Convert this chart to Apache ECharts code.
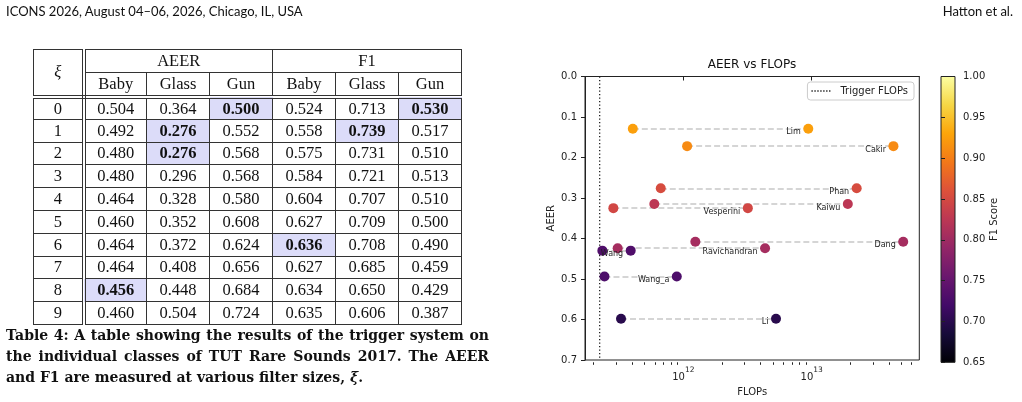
<!DOCTYPE html>
<html>
<head>
<meta charset="utf-8">
<script src="https://cdn.jsdelivr.net/npm/echarts@6.0.0/dist/echarts.min.js"></script>
<title>AEER vs FLOPs</title>
<style>
    body { margin: 0; background: #fff; width: 1022px; height: 402px; overflow: hidden; position: relative; }
    #chart { position: absolute; left: 0; top: 0; width: 1022px; height: 402px; }
    .runhead { position: absolute; top: 3px; font-family: Lato, 'Open Sans', sans-serif; font-size: 13px; color: #111; }
    #tbl { position: absolute; left: 33px; top: 49px; border-collapse: collapse; table-layout: fixed;
        font-family: 'Liberation Serif', 'DejaVu Serif', serif; font-size: 16.5px; color: #111; }
    #tbl td, #tbl th { border: 1px solid #333; text-align: center; padding: 0; font-weight: normal; }
    #tbl tr { height: 22.8px; }
    #tbl tr.h1 { height: 23px; }
    #tbl tr.h2 { height: 24px; }
    #tbl .xi { border-right: 4px double #333; }
    #tbl .hsep { border-bottom: 4px double #333; }
    #tbl .best { background: #dcdcf9; font-weight: bold; }
    #caption { position: absolute; left: 6px; top: 325px; width: 483px; font-family: 'DejaVu Serif', 'Liberation Serif', serif;
        font-weight: bold; font-size: 14px; line-height: 21px; color: #111; }
    #caption .j { text-align: justify; text-align-last: justify; white-space: nowrap; }
</style>
</head>
<body>
<div id="chart"></div>
<div class="runhead" style="left:6px">ICONS 2026, August 04–06, 2026, Chicago, IL, USA</div>
<div class="runhead" style="right:9px">Hatton et al.</div>
<table id="tbl"></table>
<div id="caption">
    <div class="j">Table 4: A table showing the results of the trigger system on</div>
    <div class="j">the individual classes of TUT Rare Sounds 2017. The AEER</div>
    <div>and F1 are measured at various filter sizes, <i>ξ</i>.</div>
</div>

<script type="text/javascript">
    // ---- table data (filter size xi) ----
    var xiValues = [0, 1, 2, 3, 4, 5, 6, 7, 8, 9];
    var classNames = ['Baby', 'Glass', 'Gun'];
    var aeerBaby  = [0.504, 0.492, 0.480, 0.480, 0.464, 0.460, 0.464, 0.464, 0.456, 0.460];
    var aeerGlass = [0.364, 0.276, 0.276, 0.296, 0.328, 0.352, 0.372, 0.408, 0.448, 0.504];
    var aeerGun   = [0.500, 0.552, 0.568, 0.568, 0.580, 0.608, 0.624, 0.656, 0.684, 0.724];
    var f1Baby    = [0.524, 0.558, 0.575, 0.584, 0.604, 0.627, 0.636, 0.627, 0.634, 0.635];
    var f1Glass   = [0.713, 0.739, 0.731, 0.721, 0.707, 0.709, 0.708, 0.685, 0.650, 0.606];
    var f1Gun     = [0.530, 0.517, 0.510, 0.513, 0.510, 0.500, 0.490, 0.459, 0.429, 0.387];

    // ---- chart data ----
    var methods   = ['Lim', 'Cakir', 'Phan', 'Kaiwu', 'Vesperini', 'Dang', 'Ravichandran', 'Wang', 'Wang_a', 'Li'];
    var methodAeer = [0.129, 0.172, 0.276, 0.315, 0.325, 0.408, 0.424, 0.430, 0.494, 0.598];
    var withTriggerFlops = [4.04e11, 1.07e12, 6.67e11, 5.94e11, 2.85e11, 1.24e12, 3.08e11, 2.34e11, 2.43e11, 3.27e11];
    var originalFlops    = [9.4e12, 4.33e13, 2.24e13, 1.91e13, 3.18e12, 5.16e13, 4.33e12, 3.89e11, 8.89e11, 5.27e12];
    var methodF1  = [0.925, 0.910, 0.853, 0.825, 0.847, 0.805, 0.805, 0.732, 0.730, 0.700];
    var triggerFlops = 2.23e11;

    var majorTicks = [1e12, 1e13];
    var minorTicks = [2e11, 3e11, 4e11, 5e11, 6e11, 7e11, 8e11, 9e11,
                      2e12, 3e12, 4e12, 5e12, 6e12, 7e12, 8e12, 9e12,
                      2e13, 3e13, 4e13, 5e13, 6e13];
    var aeerTicks = [0, 0.1, 0.2, 0.3, 0.4, 0.5, 0.6, 0.7];
    var inferno = ['#000004', '#160b39', '#420a68', '#6a176e', '#932667', '#bc3754',
                   '#dd513a', '#f37819', '#fca50a', '#f6d746', '#fcffa4'];

    // ---- build table ----
    function bestIndex(arr, useMax) {
        var b = useMax ? Math.max.apply(null, arr) : Math.min.apply(null, arr);
        return arr.map(function (v) { return v === b; });
    }
    var cols = [aeerBaby, aeerGlass, aeerGun, f1Baby, f1Glass, f1Gun];
    var bests = cols.map(function (c, k) { return bestIndex(c, k >= 3); });
    var html = '<colgroup><col style="width:50px">';
    for (var k = 0; k < 6; k++) html += '<col style="width:63px">';
    html += '</colgroup>';
    html += '<tr class="h1"><th class="xi hsep" rowspan="2"><i>ξ</i></th><th colspan="3">AEER</th><th colspan="3">F1</th></tr>';
    html += '<tr class="h2">';
    for (var g = 0; g < 2; g++) classNames.forEach(function (n) { html += '<th class="hsep">' + n + '</th>'; });
    html += '</tr>';
    xiValues.forEach(function (xi, r) {
        html += '<tr><td class="xi">' + xi + '</td>';
        cols.forEach(function (c, k) {
            html += '<td' + (bests[k][r] ? ' class="best"' : '') + '>' + c[r].toFixed(3) + '</td>';
        });
        html += '</tr>';
    });
    document.getElementById('tbl').innerHTML = html;

    // ---- chart ----
    var lg = function (v) { return Math.log10(v); };
    var dashData = [], dotData = [];
    for (var i = 0; i < methods.length; i++) {
        dashData.push({ coords: [[lg(withTriggerFlops[i]), methodAeer[i]], [lg(originalFlops[i]), methodAeer[i]]] });
        dotData.push({ value: [lg(withTriggerFlops[i]), methodAeer[i], methodF1[i], methods[i]] });
        dotData.push({ value: [lg(originalFlops[i]), methodAeer[i], methodF1[i], methods[i]],
            label: { show: true, formatter: methods[i] } });
    }

    // dotted legend icon (matplotlib ':' style)
    var dottedIcon = 'path://M0,0h1.4v1.4h-1.4z M3,0h1.4v1.4h-1.4z M6,0h1.4v1.4h-1.4z M9,0h1.4v1.4h-1.4z'
        + ' M12,0h1.4v1.4h-1.4z M15,0h1.4v1.4h-1.4z M18,0h1.4v1.4h-1.4z';

    var axisColor = '#222';
    var plot = { left: 585, top: 76.5, width: 334.3, height: 285.8 };
    var cbar = { left: 941, top: 76.5, width: 14, height: 285.8 };
    var myChart = echarts.init(document.getElementById('chart'));
    var option = {
        animation: false,
        textStyle: { fontFamily: 'DejaVu Sans' },
        title: {
            text: 'AEER vs FLOPs', left: 752, top: 59, textAlign: 'center', padding: 0,
            textStyle: { fontSize: 12, fontWeight: 'normal', color: '#111' }
        },
        legend: {
            data: [{ name: 'Trigger FLOPs', icon: dottedIcon }], right: 108, top: 82, padding: [4, 6, 4, 4],
            itemWidth: 19, itemHeight: 1.4, itemGap: 10, borderColor: '#ccc', borderWidth: 1, borderRadius: 3,
            backgroundColor: 'rgba(255,255,255,0.8)',
            textStyle: { fontSize: 10, color: '#222', padding: [0, 0, 0, 5] }
        },
        visualMap: {
            show: false, type: 'continuous', seriesIndex: 2, dimension: 2,
            min: 0.65, max: 1.0, inRange: { color: inferno }
        },
        // colorbar title
        graphic: [{
            type: 'text', x: 994, y: cbar.top + cbar.height / 2, rotation: Math.PI / 2, silent: true,
            style: { text: 'F1 Score', fontSize: 10, fontFamily: 'DejaVu Sans', fill: axisColor,
                align: 'center', verticalAlign: 'middle' }
        }],
        grid: [
            { left: plot.left, top: plot.top, width: plot.width, height: plot.height,
              show: true, borderColor: axisColor, borderWidth: 1, backgroundColor: 'transparent' },
            { left: cbar.left, top: cbar.top, width: cbar.width, height: cbar.height, show: true,
              borderColor: axisColor, borderWidth: 1,
              backgroundColor: new echarts.graphic.LinearGradient(0, 1, 0, 0,
                  inferno.map(function (c, j) { return { offset: j / (inferno.length - 1), color: c }; })) },
            { left: plot.left, top: plot.top, width: plot.width, height: plot.height, show: false }
        ],
        xAxis: [{
            type: 'value', gridIndex: 0, min: 11.234, max: 13.838,
            splitLine: { show: false },
            axisLine: { show: true, lineStyle: { color: axisColor, width: 1 } },
            axisTick: { customValues: majorTicks.map(lg), length: 4, lineStyle: { color: axisColor } },
            axisLabel: {
                customValues: majorTicks.map(lg), margin: 6,
                formatter: function (v) { return '{b|10}{s|' + Math.round(v) + '}'; },
                rich: {
                    b: { fontSize: 10, color: axisColor, lineHeight: 16, verticalAlign: 'bottom' },
                    s: { fontSize: 7.5, color: axisColor, lineHeight: 8, verticalAlign: 'top' }
                }
            },
            name: 'FLOPs', nameLocation: 'middle', nameGap: 27,
            nameTextStyle: { fontSize: 10, color: axisColor }
        }, {
            type: 'value', gridIndex: 1, min: 0, max: 1, show: false
        }, {
            type: 'value', gridIndex: 2, min: 11.234, max: 13.838,
            splitLine: { show: false }, axisLine: { show: false }, axisLabel: { show: false },
            axisTick: { customValues: minorTicks.map(lg), length: 2.5, lineStyle: { color: axisColor } }
        }],
        yAxis: [{
            type: 'value', gridIndex: 0, inverse: true, min: 0, max: 0.7, interval: 0.1,
            splitLine: { show: false },
            axisLine: { show: true, lineStyle: { color: axisColor, width: 1 } },
            axisTick: { customValues: aeerTicks, length: 4, lineStyle: { color: axisColor } },
            axisLabel: { customValues: aeerTicks, margin: 8, fontSize: 10, color: axisColor,
                formatter: function (v) { return v.toFixed(1); } },
            name: 'AEER', nameLocation: 'middle', nameGap: 29, nameRotate: 90,
            nameTextStyle: { fontSize: 10, color: axisColor }
        }, {
            type: 'value', gridIndex: 1, position: 'right', min: 0.65, max: 1.0, interval: 0.05,
            splitLine: { show: false }, axisLine: { show: false },
            axisTick: { length: 4, lineStyle: { color: axisColor } },
            axisLabel: { margin: 8, fontSize: 10, color: axisColor,
                formatter: function (v) { return v.toFixed(2); } }
        }, {
            type: 'value', gridIndex: 2, min: 0, max: 0.7, show: false
        }],
        series: [{
            type: 'lines', coordinateSystem: 'cartesian2d', xAxisIndex: 0, yAxisIndex: 0,
            silent: true, z: 1, data: dashData,
            lineStyle: { color: '#c8c8c8', width: 1.5, type: [6, 3], opacity: 1 }
        }, {
            name: 'Trigger FLOPs', type: 'line', xAxisIndex: 0, yAxisIndex: 0, symbol: 'none', z: 2,
            data: [[lg(triggerFlops), 0], [lg(triggerFlops), 0.7]],
            itemStyle: { color: '#222' },
            lineStyle: { color: '#222', width: 1.3, type: [1.3, 2.2] }
        }, {
            type: 'scatter', xAxisIndex: 0, yAxisIndex: 0, z: 3, symbolSize: 10,
            data: dotData,
            itemStyle: { opacity: 1 },
            label: {
                show: false, position: [-2.5, 8.5], align: 'right', verticalAlign: 'middle',
                fontSize: 8, color: '#222'
            }
        }]
    };
    myChart.setOption(option);
</script>
</body>
</html>
